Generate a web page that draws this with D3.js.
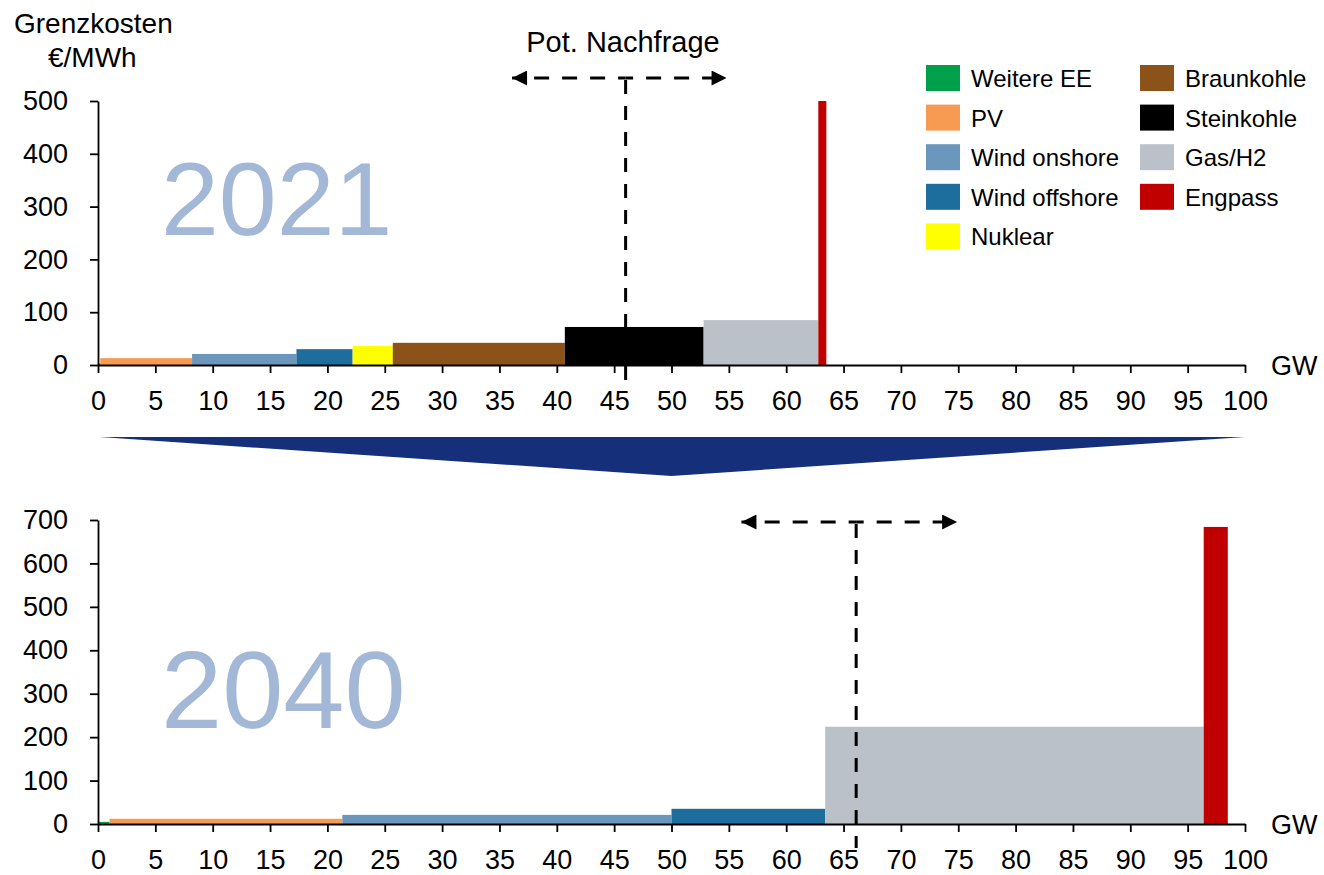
<!DOCTYPE html>
<html>
<head>
<meta charset="utf-8">
<script src="https://cdn.jsdelivr.net/npm/d3@7"></script>
<style>
  html, body { margin: 0; padding: 0; background: #fff; }
  svg text { font-family: "Liberation Sans", Arial, sans-serif; fill: #000; }
</style>
</head>
<body>
<svg id="chart" width="1324" height="875"></svg>
<script>
// Merit-order capacity blocks: width in GW, marginal cost in €/MWh
const sources = ["Weitere EE", "PV", "Wind onshore", "Wind offshore", "Nuklear",
                 "Braunkohle", "Steinkohle", "Gas/H2", "Engpass"];
const colors  = ["#00a04b", "#f79b52", "#6c97bd", "#1e6e9d", "#ffff00",
                 "#8b531a", "#000000", "#bac1c8", "#c00000"];

const order2021 = ["Weitere EE", "PV", "Wind onshore", "Wind offshore", "Nuklear",
                   "Braunkohle", "Steinkohle", "Gas/H2", "Engpass"];
const capacity2021 = [0.2, 8.0, 9.1, 4.9, 3.5, 15.0, 12.1, 10.0, 0.7];
const cost2021     = [3, 13, 21, 30, 36, 42, 72, 85, 500];

const order2040 = ["Weitere EE", "PV", "Wind onshore", "Wind offshore", "Gas/H2", "Engpass"];
const capacity2040 = [1.0, 20.3, 28.7, 13.4, 33.0, 2.1];
const cost2040     = [5, 12, 21, 35, 224, 684];

// Potential demand: lower bound, centre, upper bound (GW)
const demand2021 = [36.1, 46.0, 54.8];
const demand2040 = [56.1, 66.1, 74.9];

const xTicks = d3.range(0, 101, 5);
const yTicks2021 = [0, 100, 200, 300, 400, 500];
const yTicks2040 = [0, 100, 200, 300, 400, 500, 600, 700];

const svg = d3.select("#chart");
const colorOf = d3.scaleOrdinal().domain(sources).range(colors);
const x = d3.scaleLinear().domain([0, 100]).range([98, 1245]);

const defs = svg.append("defs");
defs.append("marker").attr("id", "head")
  .attr("viewBox", "0 0 10 10").attr("refX", 10).attr("refY", 5)
  .attr("markerWidth", 6).attr("markerHeight", 5)
  .attr("markerUnits", "strokeWidth").attr("orient", "auto")
  .append("path").attr("d", "M0,0 L10,5 L0,10 Z").attr("fill", "#000");

function panel(order, caps, costs, yMax, yTicks, yRange, demand, yearLabel, yearY, yearSize, arrowY, lineBottom) {
  const y = d3.scaleLinear().domain([0, yMax]).range(yRange);
  const g = svg.append("g");

  // cumulative blocks
  let acc = 0;
  const blocks = order.map((name, i) => {
    const b = { name, x0: acc, x1: acc + caps[i], cost: costs[i] };
    acc += caps[i];
    return b;
  });

  g.append("text").attr("x", 161).attr("y", yearY)
    .attr("font-size", yearSize).style("fill", "#a3b8d6").text(yearLabel);

  g.selectAll("rect.block").data(blocks).join("rect")
    .attr("class", "block")
    .attr("x", d => x(d.x0)).attr("width", d => x(d.x1) - x(d.x0))
    .attr("y", d => y(d.cost)).attr("height", d => y(0) - y(d.cost))
    .attr("fill", d => colorOf(d.name));

  // x axis
  const xa = g.append("g").attr("transform", `translate(0,${y(0)})`)
    .call(d3.axisBottom(x).tickValues(xTicks).tickSize(8).tickPadding(18).tickSizeOuter(0));
  xa.select(".domain").attr("stroke-width", 1.8);
  xa.selectAll(".tick line").attr("stroke-width", 1.8);
  xa.selectAll("text").attr("font-size", 27).attr("font-family", "Liberation Sans, Arial, sans-serif");

  // y axis
  const ya = g.append("g").attr("transform", `translate(${x(0)},0)`)
    .call(d3.axisLeft(y).tickValues(yTicks).tickSize(8).tickPadding(22).tickSizeOuter(0));
  ya.select(".domain").attr("stroke-width", 1.8);
  ya.selectAll(".tick line").attr("stroke-width", 1.8);
  ya.selectAll("text").attr("font-size", 27).attr("font-family", "Liberation Sans, Arial, sans-serif");

  g.append("text").attr("x", 1271).attr("y", y(0) + 10)
    .attr("font-size", 27).text("GW");

  // potential demand: vertical dashed line and dashed double arrow
  const cx = x(demand[1]);
  g.append("line").attr("x1", cx).attr("x2", cx)
    .attr("y1", arrowY + 2).attr("y2", lineBottom)
    .attr("stroke", "#000").attr("stroke-width", 3)
    .attr("stroke-dasharray", "14,12");
  [demand[0], demand[2]].forEach(end => {
    g.append("line").attr("x1", cx).attr("x2", x(end))
      .attr("y1", arrowY).attr("y2", arrowY)
      .attr("stroke", "#000").attr("stroke-width", 3)
      .attr("stroke-dasharray", "15,13").attr("stroke-dashoffset", 7.5)
      .attr("marker-end", "url(#head)");
  });
  return y;
}

panel(order2021, capacity2021, cost2021, 500, yTicks2021, [365, 101],
      demand2021, "2021", 235, 104, 78, 388);
panel(order2040, capacity2040, cost2040, 700, yTicks2040, [824, 520],
      demand2040, "2040", 728, 110, 522, 848);

// titles
svg.append("text").attr("x", 14).attr("y", 33).attr("font-size", 28).text("Grenzkosten");
svg.append("text").attr("x", 48).attr("y", 67).attr("font-size", 28).text("€/MWh");
svg.append("text").attr("x", 623).attr("y", 52).attr("text-anchor", "middle")
  .attr("font-size", 29).text("Pot. Nachfrage");

// transition arrow between the two years
svg.append("path")
  .attr("d", `M${x(0) + 2},437 L${x(100)},437 L${x(50)},476 Z`)
  .attr("fill", "#162f7a");

// legend
const legendCols = [
  ["Weitere EE", "PV", "Wind onshore", "Wind offshore", "Nuklear"],
  ["Braunkohle", "Steinkohle", "Gas/H2", "Engpass"]
];
const legendX = [926, 1140];
legendCols.forEach((col, ci) => {
  const lg = svg.append("g").attr("transform", `translate(${legendX[ci]},65)`);
  const row = lg.selectAll("g").data(col).join("g")
    .attr("transform", (d, i) => `translate(0,${i * 39.6})`);
  row.append("rect").attr("width", 34).attr("height", 26).attr("fill", d => colorOf(d));
  row.append("text").attr("x", 45).attr("y", 22).attr("font-size", 24).text(d => d);
});
</script>
</body>
</html>
